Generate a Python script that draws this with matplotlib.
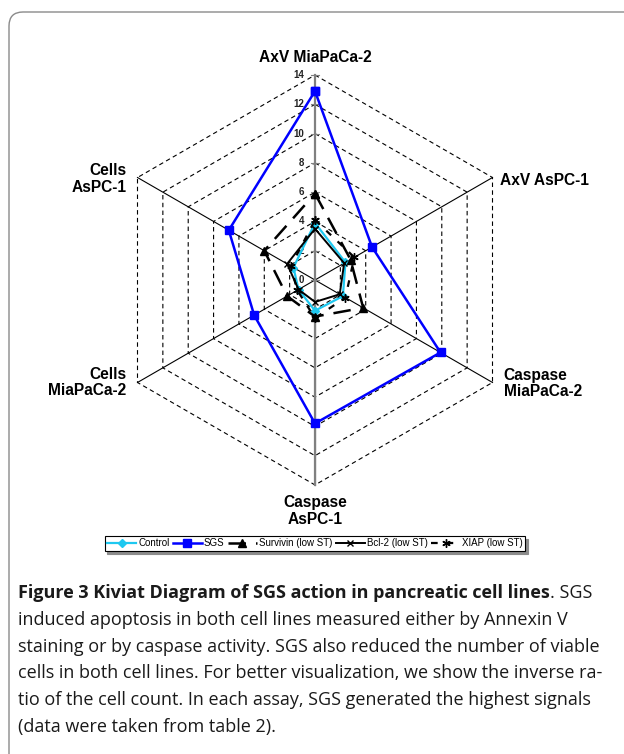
import numpy as np
import matplotlib
matplotlib.use("Agg")
import matplotlib.pyplot as plt
from matplotlib.patches import FancyBboxPatch
from matplotlib.transforms import IdentityTransform

# axes, clockwise from the top
axis_labels = ["AxV MiaPaCa-2", "AxV AsPC-1", "Caspase\nMiaPaCa-2",
               "Caspase\nAsPC-1", "Cells\nMiaPaCa-2", "Cells\nAsPC-1"]
ring_values = [2, 4, 6, 8, 10, 12, 14]
tick_labels = ["0", "2", "4", "6", "8", "10", "12", "14"]

control = [3.9, 2.4, 2.2, 2.1, 1.3, 1.7]
sgs = [12.9, 4.5, 9.9, 9.8, 4.8, 6.8]
survivin = [5.9, 2.8, 3.8, 2.5, 2.2, 4.0]
bcl2 = [3.5, 2.3, 1.95, 1.5, 1.3, 2.2]
xiap = [4.1, 3.1, 2.4, 2.6, 1.4, 1.9]

W, H = 624, 754
CX, CY = 315, 280          # centre of the diagram in pixels
S = 14.64                  # pixels per unit

fig = plt.figure(figsize=(W / 100, H / 100), dpi=100)
ax = fig.add_axes([0, 0, 1, 1])
ax.set_xlim(-CX / S, (W - CX) / S)
ax.set_ylim(-(H - CY) / S, CY / S)
ax.axis("off")

angles = np.deg2rad(90 - 60 * np.arange(6))


def xy(vals):
    v = np.asarray(vals, dtype=float)
    x = v * np.cos(angles)
    y = v * np.sin(angles)
    return np.append(x, x[0]), np.append(y, y[0])


# grid rings
for r in ring_values:
    gx, gy = xy([r] * 6)
    ax.plot(gx, gy, color="black", lw=0.8, ls=(0, (4, 3)), zorder=1)

# spokes
top = ring_values[-1]
for i, a in enumerate(angles):
    if i == 0:
        continue
    ax.plot([0, top * np.cos(a)], [0, top * np.sin(a)], color="black", lw=0.8, zorder=2)
ax.plot([0, 0], [-top, top], color="#808080", lw=1.6, zorder=2)
for k, lab in enumerate(tick_labels):
    v = 2 * k
    ax.plot([-0.25, 0.25], [v, v], color="#808080", lw=0.8, zorder=2)
    ax.text(-0.75, v, lab, ha="right", va="center", fontsize=7,
            fontweight="bold", family="Liberation Sans", color="#222222")

# axis labels
lab_pos = [(0, 15.23), (12.65, 6.83), (12.9, -7.05), (0, -15.78), (-12.9, -7.0), (-12.9, 6.9)]
lab_ha = ["center", "left", "left", "center", "right", "right"]
for lab, (lx, ly), ha in zip(axis_labels, lab_pos, lab_ha):
    ax.text(lx, ly, lab, ha=ha, va="center", fontsize=11.2, fontweight="bold",
            family="Liberation Sans", linespacing=1.1, ma=ha)

# series
series = [
    ("Control", control, dict(color="#1ec8f0", lw=1.6, marker="D", ms=4, ls="-")),
    ("SGS", sgs, dict(color="#0000ff", lw=1.8, marker="s", ms=6, ls="-")),
    ("Survivin (low ST)", survivin, dict(color="black", lw=1.8, marker="^", ms=6, ls=(0, (7, 4)))),
    ("Bcl-2 (low ST)", bcl2, dict(color="black", lw=1.4, marker="x", ms=5, ls="-")),
    ("XIAP (low ST)", xiap, dict(color="black", lw=1.6, marker=(6, 2, 0), ms=6, ls=(0, (3, 4)))),
]
handles = []
for name, vals, st in series:
    sx, sy = xy(vals)
    h, = ax.plot(sx, sy, label=name, zorder=4, **st)
    handles.append(h)

leg = fig.legend(handles=handles, loc="center",
                 bbox_to_anchor=(315 / W, 1 - 543.5 / H), ncol=5,
                 frameon=True, fancybox=False, edgecolor="black", handlelength=3.0,
                 handletextpad=0.2, columnspacing=0.35, borderpad=0.25,
                 shadow={"color": "#8c8c8c", "alpha": 1},
                 prop={"family": "Liberation Sans", "size": 7})
leg.get_frame().set_linewidth(0.8)

# rounded border of the figure panel
box = FancyBboxPatch((9, -40), 680, H - 12 + 40, boxstyle="round,pad=0,rounding_size=14",
                     transform=IdentityTransform(), fill=False, ec="#8a8a8a", lw=1.0)
fig.patches.append(box)
box.set_figure(fig)

# caption
cap_font = "Open Sans"
bold_part = "Figure 3 Kiviat Diagram of SGS action in pancreatic cell lines"
lines = [
    ". SGS",
    "induced apoptosis in both cell lines measured either by Annexin V",
    "staining or by caspase activity. SGS also reduced the number of viable",
    "cells in both cell lines. For better visualization, we show the inverse ra-",
    "tio of the cell count. In each assay, SGS generated the highest signals",
    "(data were taken from table 2).",
]
line_y = [593, 620, 647, 673, 700, 727]
renderer = fig.canvas.get_renderer()

# fit the caption font so the third line spans the text block width
probe = fig.text(0, 0, lines[2], fontsize=10, family=cap_font)
fs = 10 * 585 / probe.get_window_extent(renderer).width
probe.remove()

tb = fig.text(18 / W, 1 - line_y[0] / H, bold_part, fontsize=fs, fontweight="bold",
              family=cap_font, va="center", ha="left", color="#1a1a1a")
ext = tb.get_window_extent(renderer)
fig.text(ext.x1 / W, 1 - line_y[0] / H, lines[0], fontsize=fs, family=cap_font,
         va="center", ha="left", color="#1a1a1a")
for txt, y in zip(lines[1:], line_y[1:]):
    fig.text(18 / W, 1 - y / H, txt, fontsize=fs, family=cap_font, va="center",
             ha="left", color="#1a1a1a")

fig.savefig("out.png", dpi=100)
